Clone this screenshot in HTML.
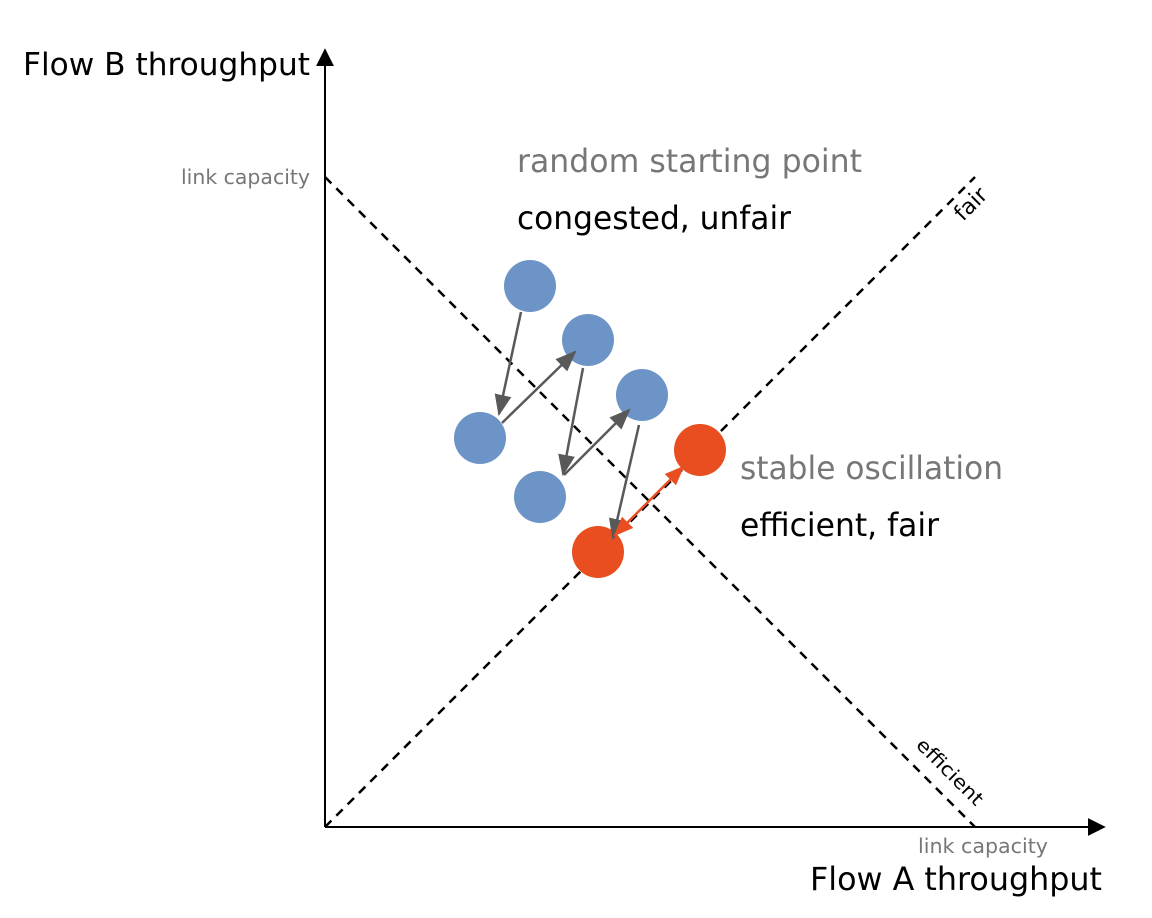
<!DOCTYPE html>
<html><head><meta charset="utf-8"><style>
html,body{margin:0;padding:0;background:#fff}
svg{display:block}
text{font-family:"DejaVu Sans","Liberation Sans",sans-serif}
</style></head><body>
<svg width="1152" height="918" viewBox="0 0 1152 918" xmlns="http://www.w3.org/2000/svg">
<defs>
<marker id="ag" viewBox="0 0 10 10" refX="9" refY="5" markerWidth="8.5" markerHeight="8.5" orient="auto" markerUnits="strokeWidth"><path d="M0,1L10,5L0,9z" fill="#595959"/></marker>
<marker id="ar" viewBox="0 0 10 10" refX="9" refY="5" markerWidth="8" markerHeight="8" orient="auto-start-reverse" markerUnits="strokeWidth"><path d="M0,1L10,5L0,9z" fill="#e84e1f"/></marker>
<marker id="ab" viewBox="0 0 10 10" refX="9" refY="5" markerWidth="9" markerHeight="9" orient="auto" markerUnits="strokeWidth"><path d="M0,0L10,5L0,10z" fill="#000"/></marker>
</defs>
<line x1="325" y1="827" x2="325" y2="50" stroke="#000" stroke-width="2" marker-end="url(#ab)"/>
<line x1="325" y1="827" x2="1104" y2="827" stroke="#000" stroke-width="2" marker-end="url(#ab)"/>
<line x1="325" y1="177" x2="975" y2="827" stroke="#000" stroke-width="2.5" stroke-dasharray="9,7"/>
<line x1="325" y1="827" x2="975" y2="177" stroke="#000" stroke-width="2.5" stroke-dasharray="9,7"/>
<g fill="#6d94c6">
<circle cx="530" cy="286" r="26"/>
<circle cx="588" cy="340" r="26"/>
<circle cx="642" cy="395" r="26"/>
<circle cx="480" cy="438" r="26"/>
<circle cx="540" cy="497" r="26"/>
</g>
<g fill="#e84e1f">
<circle cx="700" cy="450" r="26"/>
<circle cx="598" cy="552" r="26"/>
</g>
<g stroke="#595959" stroke-width="2.5" fill="none">
<line x1="521" y1="312" x2="499" y2="414" marker-end="url(#ag)"/>
<line x1="502" y1="423" x2="575" y2="352" marker-end="url(#ag)"/>
<line x1="583" y1="368" x2="563" y2="474" marker-end="url(#ag)"/>
<line x1="564" y1="475" x2="629" y2="410" marker-end="url(#ag)"/>
<line x1="639" y1="425" x2="613" y2="538" marker-end="url(#ag)"/>
</g>
<line x1="615" y1="535" x2="683" y2="467" stroke="#e84e1f" stroke-width="2.5" marker-start="url(#ar)" marker-end="url(#ar)"/>
<text x="23" y="75" font-size="31" fill="#000" textLength="287" lengthAdjust="spacingAndGlyphs">Flow B throughput</text>
<text x="181" y="184" font-size="20" fill="#777" textLength="129" lengthAdjust="spacingAndGlyphs">link capacity</text>
<text x="517" y="172" font-size="32" fill="#777" textLength="345" lengthAdjust="spacingAndGlyphs">random starting point</text>
<text x="517" y="229" font-size="32" fill="#000" textLength="274" lengthAdjust="spacingAndGlyphs">congested, unfair</text>
<text x="740" y="479" font-size="32" fill="#777" textLength="263" lengthAdjust="spacingAndGlyphs">stable oscillation</text>
<text x="740" y="536" font-size="32" fill="#000" textLength="199" lengthAdjust="spacingAndGlyphs">efficient, fair</text>
<text x="918" y="853" font-size="20" fill="#777" textLength="130" lengthAdjust="spacingAndGlyphs">link capacity</text>
<text x="810" y="890" font-size="32" fill="#000" textLength="292" lengthAdjust="spacingAndGlyphs">Flow A throughput</text>
<text x="0" y="0" font-size="22" fill="#000" transform="translate(963,222) rotate(-45)">fair</text>
<text x="0" y="0" font-size="19" fill="#000" transform="translate(915,746) rotate(45)" textLength="86" lengthAdjust="spacingAndGlyphs">efficient</text>
</svg>
</body></html>
